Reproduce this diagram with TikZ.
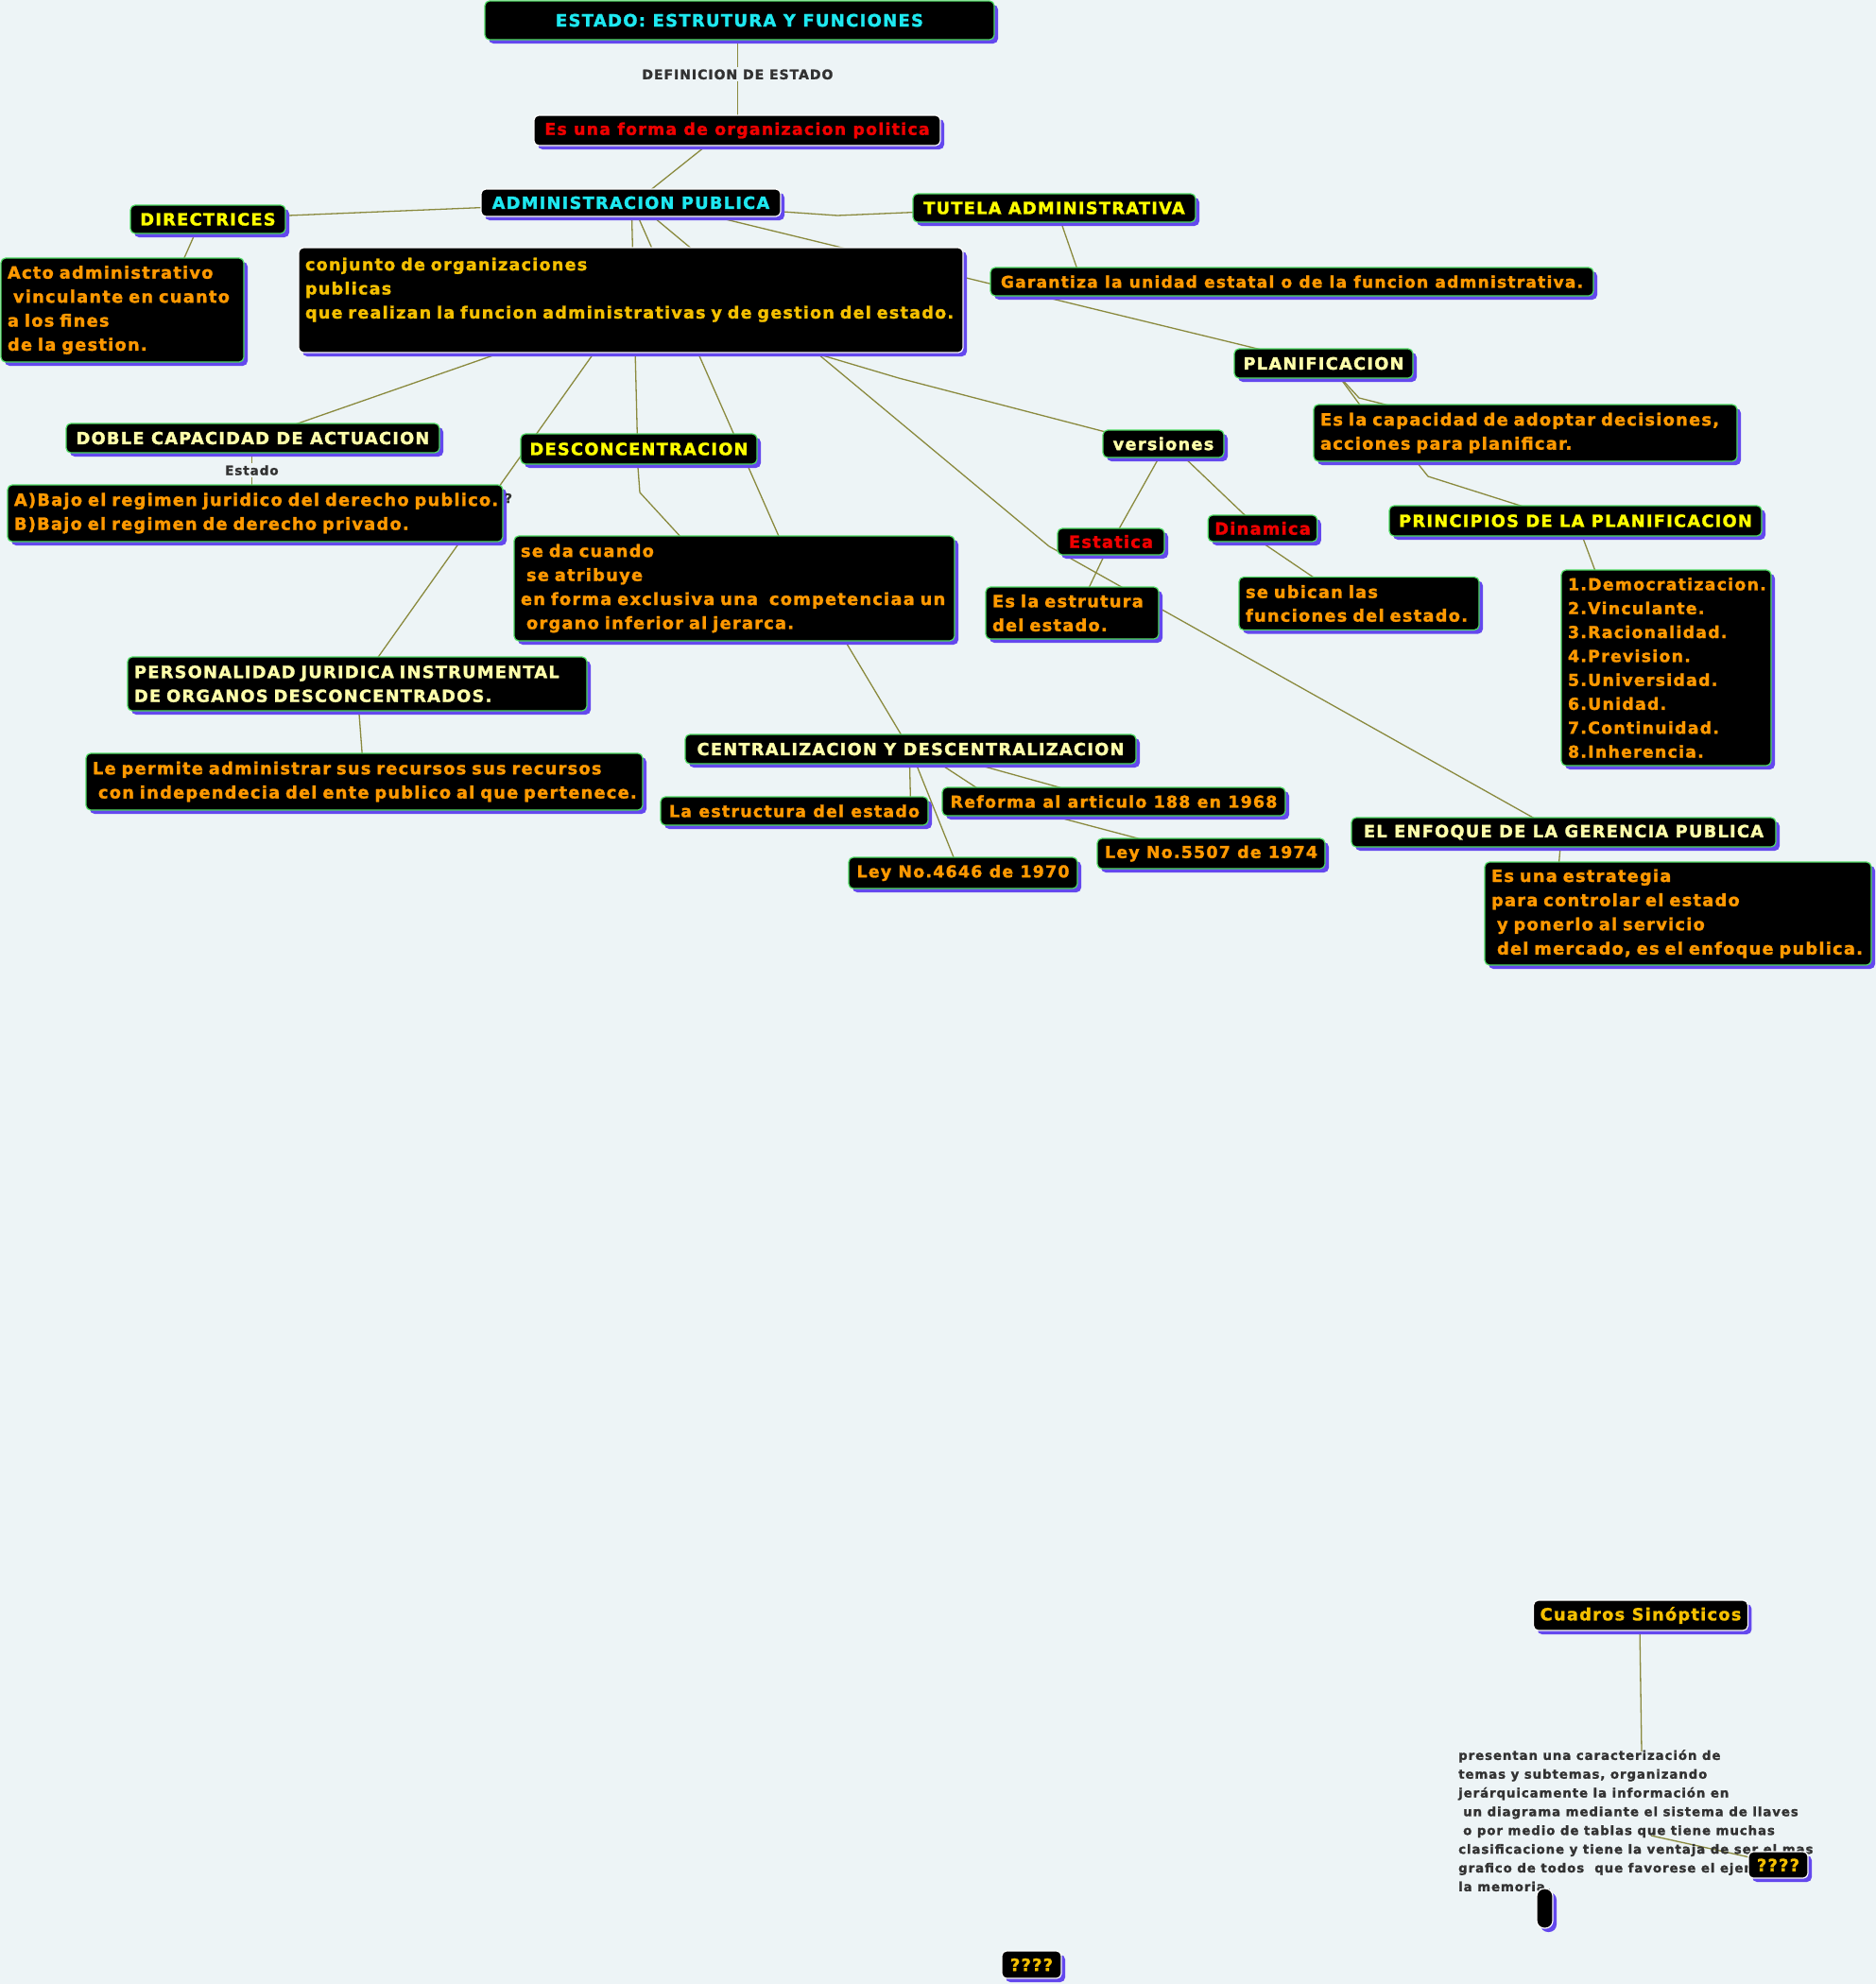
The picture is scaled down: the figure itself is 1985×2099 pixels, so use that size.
\documentclass[tikz,border=0pt]{standalone}
\usepackage{fontspec}
\newfontfamily\nf[LetterSpace=7, FakeBold=1.5]{DejaVu Sans Bold}
\usetikzlibrary{shadows,calc}
\definecolor{bgc}{RGB}{237,244,246}
\definecolor{edgec}{RGB}{138,138,62}
\definecolor{shadc}{RGB}{100,72,238}
\definecolor{brdg}{RGB}{80,220,100}
\definecolor{cyanT}{RGB}{30,232,240}
\definecolor{yelT}{RGB}{255,255,0}
\definecolor{creamT}{RGB}{255,255,170}
\definecolor{redT}{RGB}{240,0,0}
\definecolor{orT}{RGB}{255,153,0}
\definecolor{goldT}{RGB}{245,192,0}
\definecolor{grayT}{RGB}{50,50,50}
\pgfdeclarelayer{bg}
\pgfdeclarelayer{edges}
\pgfsetlayers{bg,edges,main}
\tikzset{
  bx/.style={rounded corners=5pt, fill=black, draw=brdg, line width=1.2pt,
    inner xsep=7pt, inner ysep=0pt,
    font=\nf\fontsize{17.8}{25.4}\selectfont,
    drop shadow={shadow xshift=4pt, shadow yshift=-4pt, fill=shadc, opacity=1}},
  sm/.style={font=\nf\fontsize{17.4}{25.4}\selectfont},
  wb/.style={draw=white},
  ml/.style={align=left},
  conn/.style={draw=edgec, line width=1.3pt},
  lbl/.style={font=\nf\fontsize{14}{16}\selectfont, text=grayT, fill=bgc, inner sep=2pt},
}
\begin{document}
\begin{tikzpicture}[x=1pt,y=-1pt]
\begin{pgfonlayer}{bg}
\fill[bgc] (0,0) rectangle (1985,2099);
\end{pgfonlayer}
\path[use as bounding box] (0,0) rectangle (1985,2099);

% ---------- nodes ----------
\node[bx, text=cyanT, minimum width=539pt, minimum height=41pt, font=\nf\fontsize{18}{22}\selectfont] (top) at (782.5,21.5) {ESTADO: ESTRUTURA Y FUNCIONES};
\node[bx, wb, sm, text=redT, minimum width=430pt, minimum height=32pt] (forma) at (780,138) {Es una forma de organizacion politica};
\node[bx, wb, text=cyanT, minimum width=317pt, minimum height=29pt] (admin) at (667.5,214.5) {ADMINISTRACION PUBLICA};
\node[bx, text=yelT, minimum width=164pt, minimum height=30pt] (direct) at (220,232) {DIRECTRICES};
\node[bx, ml, text=orT, text width=243pt, minimum height=110pt] (acto) at (129.5,328) {\mbox{Acto administrativo}\\\mbox{\hspace*{6pt}vinculante en cuanto}\\\mbox{a los fines}\\\mbox{de la gestion.}};
\node[bx, wb, ml, text=goldT, text width=689pt, minimum height=111pt, font=\nf\fontsize{17.6}{25.4}\selectfont] (conj) at (667.5,317.5) {\mbox{conjunto de organizaciones}\\\mbox{publicas}\\\mbox{que realizan la funcion administrativas y de gestion del estado.}\\\mbox{}};
\node[bx, text=yelT, minimum width=299pt, minimum height=30pt] (tutela) at (1115.5,220) {TUTELA ADMINISTRATIVA};
\node[bx, text=orT, minimum width=638pt, minimum height=30pt, font=\nf\fontsize{17.1}{25}\selectfont] (garant) at (1367,298) {Garantiza la unidad estatal o de la funcion admnistrativa.};
\node[bx, text=creamT, minimum width=395pt, minimum height=31pt] (doble) at (267.5,463.5) {DOBLE CAPACIDAD DE ACTUACION};
\node[bx, ml, text=orT, text width=510pt, minimum height=60pt] (bajo) at (270,543) {\mbox{A)Bajo el regimen juridico del derecho publico.}\\\mbox{B)Bajo el regimen de derecho privado.}};
\node[bx, text=yelT, minimum width=250pt, minimum height=32pt] (desc) at (676,475) {DESCONCENTRACION};
\node[bx, ml, text=orT, text width=452pt, minimum height=111pt] (seda) at (777,622.5) {\mbox{se da cuando}\\\mbox{\hspace*{6pt}se atribuye}\\\mbox{en forma exclusiva una \ competenciaa un}\\\mbox{\hspace*{6pt}organo inferior al jerarca.}};
\node[bx, ml, text=creamT, text width=472pt, minimum height=57pt] (pers) at (378,723.5) {\mbox{PERSONALIDAD JURIDICA INSTRUMENTAL}\\\mbox{DE ORGANOS DESCONCENTRADOS.}};
\node[bx, ml, text=orT, text width=575pt, minimum height=60pt] (lepermite) at (385.5,827) {\mbox{Le permite administrar sus recursos sus recursos}\\\mbox{\hspace*{6pt}con independecia del ente publico al que pertenece.}};
\node[bx, text=creamT, minimum width=477pt, minimum height=31pt] (cent) at (963.5,792.5) {CENTRALIZACION Y DESCENTRALIZACION};
\node[bx, sm, text=orT, minimum width=283pt, minimum height=30pt] (laest) at (840.5,858) {La estructura del estado};
\node[bx, sm, text=orT, minimum width=363pt, minimum height=30pt] (reforma) at (1178.5,848) {Reforma al articulo 188 en 1968};
\node[bx, sm, text=orT, minimum width=242pt, minimum height=33pt] (leyA) at (1019,923.5) {Ley No.4646 de 1970};
\node[bx, sm, text=orT, minimum width=241pt, minimum height=32pt] (leyB) at (1281.5,903) {Ley No.5507 de 1974};
\node[bx, text=creamT, minimum width=128pt, minimum height=29pt] (versiones) at (1231,469.5) {versiones};
\node[bx, text=redT, minimum width=113pt, minimum height=28pt] (estatica) at (1175.5,573) {Estatica};
\node[bx, text=redT, minimum width=114pt, minimum height=28pt] (dinamica) at (1336,559) {Dinamica};
\node[bx, ml, text=orT, text width=169pt, minimum height=55pt] (esla) at (1134.5,648.5) {\mbox{Es la estrutura}\\\mbox{del estado.}};
\node[bx, ml, text=orT, text width=240pt, minimum height=56pt, font=\nf\fontsize{17.8}{25}\selectfont] (ubican) at (1438,638.5) {\mbox{se ubican las}\\\mbox{funciones del estado.}};
\node[bx, text=creamT, minimum width=189pt, minimum height=31pt] (plan) at (1400.5,384.5) {PLANIFICACION};
\node[bx, ml, text=orT, text width=434pt, minimum height=60pt] (capac) at (1614,458) {\mbox{Es la capacidad de adoptar decisiones,}\\\mbox{acciones para planificar.}};
\node[bx, text=yelT, minimum width=394pt, minimum height=32pt] (princ) at (1667,551) {PRINCIPIOS DE LA PLANIFICACION};
\node[bx, ml, text=orT, text width=208pt, minimum height=207pt, font=\nf\fontsize{17.4}{25.3}\selectfont] (lista) at (1763,706.5) {1.Democratizacion.\\2.Vinculante.\\3.Racionalidad.\\4.Prevision.\\5.Universidad.\\6.Unidad.\\7.Continuidad.\\8.Inherencia.};
\node[bx, text=creamT, minimum width=449pt, minimum height=31pt] (enfoque) at (1654.5,880.5) {EL ENFOQUE DE LA GERENCIA PUBLICA};
\node[bx, ml, text=orT, text width=395pt, minimum height=109pt, font=\nf\fontsize{17.8}{25.6}\selectfont] (estrat) at (1775.5,966.5) {\mbox{Es una estrategia}\\\mbox{para controlar el estado}\\\mbox{\hspace*{6pt}y ponerlo al servicio}\\\mbox{\hspace*{6pt}del mercado, es el enfoque publica.}};
\node[bx, wb, text=goldT, minimum width=224pt, minimum height=32pt] (cuadros) at (1736,1709) {Cuadros Sinópticos};
\node[anchor=north west, inner sep=0pt, align=left, text=grayT, font=\nf\fontsize{13.3}{19.85}\selectfont] (sinop) at (1543,1851) {presentan una caracterización de\\temas y subtemas, organizando\\jerárquicamente la información en\\\hspace*{5pt}un diagrama mediante el sistema de llaves\\\hspace*{5pt}o por medio de tablas que tiene muchas\\clasificacione y tiene la ventaja de ser el mas\\grafico de todos \ que favorese el ejercicio de\\la memoria.};
\node[bx, wb, text=goldT, minimum width=63pt, minimum height=28pt] (qa) at (1881.5,1973) {????};
\node[bx, wb, rounded corners=8pt, inner xsep=0pt, minimum width=17pt, minimum height=42pt] (pill) at (1634.5,2019) {};
\node[bx, wb, text=goldT, minimum width=63pt, minimum height=29pt] (qb) at (1091.5,2078.5) {????};
\node[text=grayT, inner sep=0pt, font=\nf\fontsize{13.5}{16}\selectfont] (qmark) at (538,527) {?};

% ---------- connectors ----------
\begin{pgfonlayer}{edges}
\draw[conn] ([shift={(268,37)}]top.north west) -- node[lbl, pos=0.47] (defl) {DEFINICION DE ESTADO} ([shift={(216,4)}]forma.north west);
\draw[conn] ([shift={(190,27)}]forma.north west) -- ([shift={(177,4)}]admin.north west);
\draw[conn] ([shift={(6,20)}]admin.north west) -- ([shift={(158,12)}]direct.north west);
\draw[conn] ([shift={(311,24)}]admin.north west) -- (886,228) -- ([shift={(6,20)}]tutela.north west);
\draw[conn] ([shift={(71,26)}]direct.north west) -- ([shift={(193,4)}]acto.north west);
\draw[conn] ([shift={(160,25)}]admin.north west) -- ([shift={(124,6)}]desc.north west);
\draw[conn] ([shift={(165,26)}]admin.north west) -- ([shift={(282,4)}]seda.north west);
\draw[conn] ([shift={(178,26)}]admin.north west) -- (1110,578) -- ([shift={(197,3)}]enfoque.north west);
\draw[conn] ([shift={(232,26)}]admin.north west) -- ([shift={(31,2)}]plan.north west);
\draw[conn] ([shift={(211,113)}]conj.north west) -- ([shift={(236,4)}]doble.north west);
\draw[conn] ([shift={(313,112)}]conj.north west) -- ([shift={(262,6)}]pers.north west);
\draw[conn] ([shift={(546,112)}]conj.north west) -- (951,400) -- ([shift={(5,3)}]versiones.north west);
\draw[conn] ([shift={(124,28)}]desc.north west) -- (677,521) -- ([shift={(179,4)}]seda.north west);
\draw[conn] ([shift={(348,107)}]seda.north west) -- ([shift={(231,4)}]cent.north west);
\draw[conn] ([shift={(197,27)}]doble.north west) -- node[lbl, pos=0.55, font=\nf\fontsize{13.5}{16}\selectfont] (estl) {Estado} ([shift={(259,4)}]bajo.north west);
\draw[conn] ([shift={(245,53)}]pers.north west) -- ([shift={(293,4)}]lepermite.north west);
\draw[conn] ([shift={(238,27)}]cent.north west) -- ([shift={(265,4)}]laest.north west);
\draw[conn] ([shift={(243,27)}]cent.north west) -- ([shift={(113,4)}]leyA.north west);
\draw[conn] ([shift={(266,29)}]cent.north west) -- ([shift={(40,3)}]reforma.north west);
\draw[conn] ([shift={(297,29)}]cent.north west) -- ([shift={(126,1)}]reforma.north west);
\draw[conn] ([shift={(107,28)}]reforma.north west) -- ([shift={(49,2)}]leyB.north west);
\draw[conn] ([shift={(62,26)}]versiones.north west) -- ([shift={(64,4)}]estatica.north west);
\draw[conn] ([shift={(83,26)}]versiones.north west) -- ([shift={(42,3)}]dinamica.north west);
\draw[conn] ([shift={(52,25)}]estatica.north west) -- ([shift={(109,3)}]esla.north west);
\draw[conn] ([shift={(51,25)}]dinamica.north west) -- ([shift={(81,2)}]ubican.north west);
\draw[conn] ([shift={(110,28)}]plan.north west) -- ([shift={(51,3)}]capac.north west);
\draw[conn] ([shift={(110,28)}]plan.north west) -- (1438,421) -- ([shift={(82,2)}]capac.north west);
\draw[conn] ([shift={(106,57)}]capac.north west) -- (1511,504) -- ([shift={(147,3)}]princ.north west);
\draw[conn] ([shift={(203,28)}]princ.north west) -- ([shift={(37,3)}]lista.north west);
\draw[conn] ([shift={(222,27)}]enfoque.north west) -- ([shift={(79,3)}]estrat.north west);
\draw[conn] ([shift={(156,27)}]tutela.north west) -- ([shift={(93,4)}]garant.north west);
\draw[conn] ([shift={(113,29)}]cuadros.north west) -- ([shift={(194,2)}]sinop.north west);
\draw[conn] ([shift={(204,91)}]sinop.north west) -- ([shift={(4,7)}]qa.north west);
\end{pgfonlayer}
\end{tikzpicture}
\end{document}
